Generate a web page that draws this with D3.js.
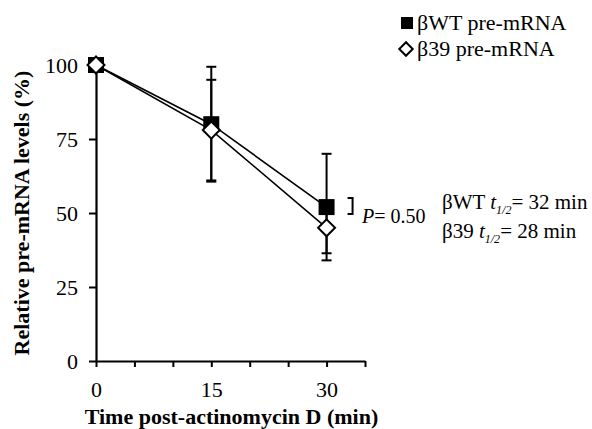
<!DOCTYPE html>
<html>
<head>
<meta charset="utf-8">
<script src="https://cdn.jsdelivr.net/npm/d3@7"></script>
<style>
  body { margin: 0; background: #fff; }
  svg text { font-family: "Liberation Serif", "Times New Roman", serif; fill: #000; }
</style>
</head>
<body>
<div id="chart"></div>
<script>
var WIDTH = 592;
var HEIGHT = 429;

// data
var times = [0, 15, 30];
var wtLevels = [100, 80, 52];
var wtErr = [0, 19.4, 18];
var b39Levels = [100, 78, 45];
var b39Err = [0, 17, 8.6];
var xTicks = [0, 5, 10, 15, 20, 25, 30, 35];
var xTickLabels = [0, 15, 30];
var yTicks = [0, 25, 50, 75, 100];

var SVG = d3.select("#chart").append("svg")
    .attr("width", WIDTH)
    .attr("height", HEIGHT);

SVG.append("rect").attr("width", WIDTH).attr("height", HEIGHT).attr("fill", "#fff");

var x = d3.scaleLinear().domain([0, 35]).range([96, 365]);
var y = d3.scaleLinear().domain([0, 100]).range([361, 65]);

// y axis
var yAxis = SVG.append("g")
    .attr("transform", "translate(" + x(0) + ",0)")
    .call(d3.axisLeft(y).tickValues(yTicks).tickSize(7).tickPadding(11).tickSizeOuter(0));
yAxis.select(".domain").attr("stroke", "#000").attr("stroke-width", 2.2);
yAxis.selectAll(".tick line").attr("stroke", "#000").attr("stroke-width", 2);
yAxis.selectAll(".tick text")
    .style("font-size", "22px")
    .style("font-family", "'Liberation Serif', 'Times New Roman', serif")
    .attr("dy", "0.34em");

// x axis
var xAxis = SVG.append("g")
    .attr("transform", "translate(0," + y(0) + ")")
    .call(d3.axisBottom(x).tickValues(xTicks).tickSize(6).tickSizeOuter(0)
        .tickFormat(d => xTickLabels.includes(d) ? d : ""));
xAxis.select(".domain").attr("stroke", "#000").attr("stroke-width", 2.2);
xAxis.selectAll(".tick line").attr("stroke", "#000").attr("stroke-width", 2);
xAxis.selectAll(".tick text")
    .style("font-size", "22px")
    .style("font-family", "'Liberation Serif', 'Times New Roman', serif")
    .attr("y", 20)
    .attr("dy", "0.71em");

// axis titles
SVG.append("text")
    .attr("transform", "translate(29," + ((y(0) + y(100)) / 2) + ") rotate(-90)")
    .attr("text-anchor", "middle")
    .style("font-size", "22px")
    .style("font-weight", "bold")
    .text("Relative pre-mRNA levels (%)");

SVG.append("text")
    .attr("x", (x(0) + x(35)) / 2 + 1)
    .attr("y", 424)
    .attr("text-anchor", "middle")
    .style("font-size", "22px")
    .style("font-weight", "bold")
    .text("Time post-actinomycin D (min)");

// error bars
function errorBars(levels, errs) {
    var g = SVG.append("g").attr("stroke", "#000").attr("stroke-width", 2);
    times.forEach((t, i) => {
        if (errs[i] === 0) return;
        var cx = x(t);
        var top = y(levels[i] + errs[i]);
        var bot = y(levels[i] - errs[i]);
        g.append("line").attr("x1", cx).attr("x2", cx).attr("y1", top).attr("y2", bot);
        g.append("line").attr("x1", cx - 5).attr("x2", cx + 5).attr("y1", top).attr("y2", top);
        g.append("line").attr("x1", cx - 5).attr("x2", cx + 5).attr("y1", bot).attr("y2", bot);
    });
}
errorBars(wtLevels, wtErr);
errorBars(b39Levels, b39Err);

// lines
var line = d3.line().x(d => x(d[0])).y(d => y(d[1]));
SVG.append("path")
    .datum(times.map((t, i) => [t, wtLevels[i]]))
    .attr("d", line)
    .attr("fill", "none").attr("stroke", "#000").attr("stroke-width", 1.6);
SVG.append("path")
    .datum(times.map((t, i) => [t, b39Levels[i]]))
    .attr("d", line)
    .attr("fill", "none").attr("stroke", "#000").attr("stroke-width", 1.6);

// markers
var square = d3.symbol().type(d3.symbolSquare).size(16 * 16);
var diamond = d3.symbol().type(d3.symbolSquare).size(12 * 12);

SVG.append("g").selectAll("path")
    .data(times.map((t, i) => [t, wtLevels[i]]))
    .join("path")
    .attr("d", square)
    .attr("transform", d => "translate(" + x(d[0]) + "," + y(d[1]) + ")")
    .attr("fill", "#000");

SVG.append("g").selectAll("path")
    .data(times.map((t, i) => [t, b39Levels[i]]))
    .join("path")
    .attr("d", diamond)
    .attr("transform", d => "translate(" + x(d[0]) + "," + y(d[1]) + ") rotate(45)")
    .attr("fill", "#fff")
    .attr("stroke", "#000")
    .attr("stroke-width", 2);

// legend
var legend = SVG.append("g");
legend.append("path")
    .attr("d", d3.symbol().type(d3.symbolSquare).size(12 * 12))
    .attr("transform", "translate(407,23)")
    .attr("fill", "#000");
legend.append("text").attr("x", 417).attr("y", 30).style("font-size", "22px").text("βWT pre-mRNA");
legend.append("path")
    .attr("d", d3.symbol().type(d3.symbolSquare).size(9.5 * 9.5))
    .attr("transform", "translate(406,49) rotate(45)")
    .attr("fill", "#fff").attr("stroke", "#000").attr("stroke-width", 2);
legend.append("text").attr("x", 417).attr("y", 56).style("font-size", "22px").text("β39 pre-mRNA");

// significance bracket
var bx = x(30) + 21;
SVG.append("path")
    .attr("d", "M" + bx + "," + 198 + "H" + (bx + 5) + "V" + 214 + "H" + bx)
    .attr("fill", "none").attr("stroke", "#000").attr("stroke-width", 2);

var pText = SVG.append("text").attr("x", 362).attr("y", 223).style("font-size", "20px");
pText.append("tspan").style("font-style", "italic").text("P");
pText.append("tspan").text("= 0.50");

// half-lives
function halfLife(label, val, yy) {
    var t = SVG.append("text").attr("x", 442).attr("y", yy).style("font-size", "21px");
    t.append("tspan").text(label + " ");
    t.append("tspan").style("font-style", "italic").text("t");
    t.append("tspan").style("font-style", "italic").style("font-size", "12px").attr("dy", 5).text("1/2");
    t.append("tspan").attr("dy", -5).text("= " + val + " min");
}
halfLife("βWT", 32, 209);
halfLife("β39", 28, 238);
</script>
</body>
</html>
